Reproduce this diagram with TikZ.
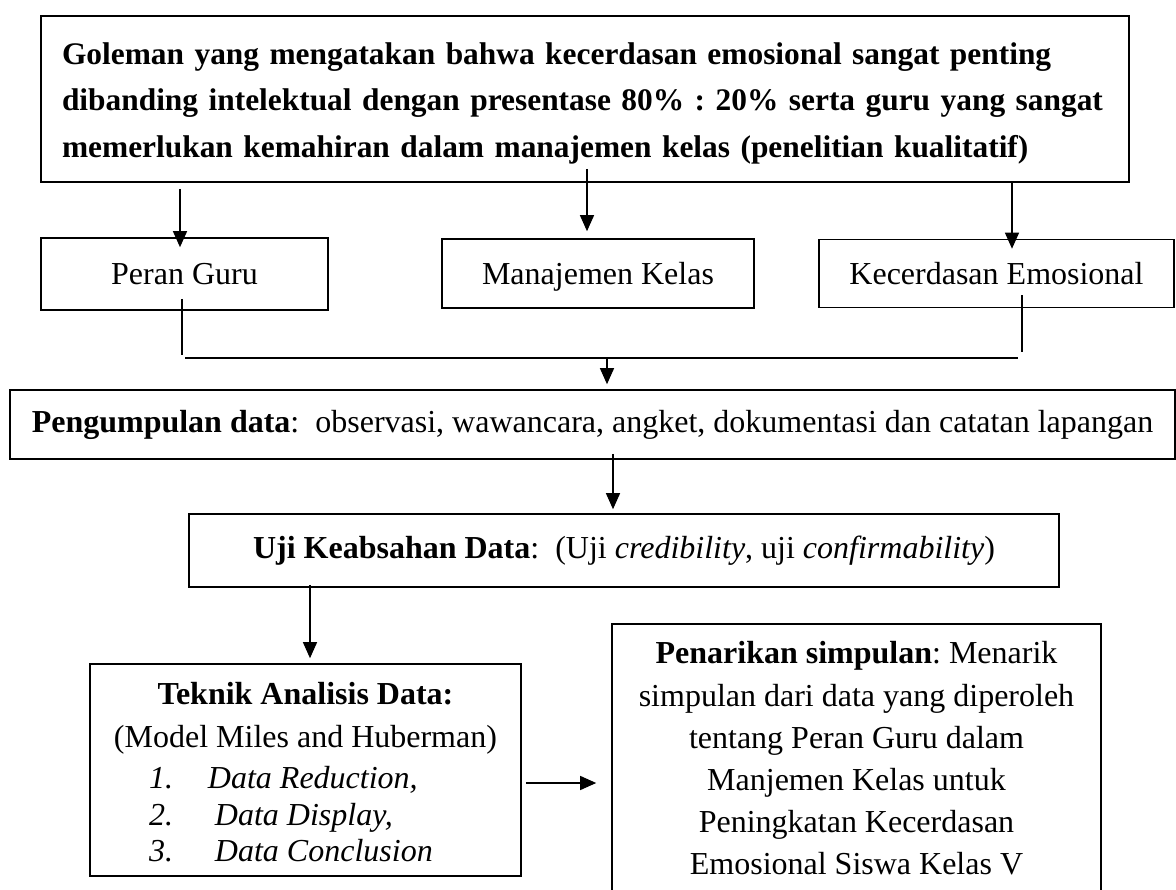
\documentclass[tikz,border=0pt]{standalone}
\usepackage{fontspec}
\setmainfont{Liberation Serif}
\usetikzlibrary{arrows.meta,calc}
\newcommand{\fsz}[2]{\fontsize{#1}{#2}\selectfont\frenchspacing}
\frenchspacing
\begin{document}
\begin{tikzpicture}[x=1pt,y=-1pt,
  box/.style={draw, line width=1.6pt, inner sep=0pt, align=center, font=\fsz{32}{40}},
  small/.style={box, text height=22pt, text depth=0pt},
  conn/.style={line width=1.3pt},
  arr/.style={conn, -{Triangle[width=14pt,length=16pt]}}]
\useasboundingbox (0,0) rectangle (1176,890);
\clip (0,0) rectangle (1176,890);

% top box
\node[box, minimum width=1088pt, minimum height=166pt, text width=1046pt, align=left,
      font=\fsz{31.4}{46.5}\bfseries] (top) at (585,99)
 {\mbox{\rule{0pt}{30pt}Goleman yang mengatakan bahwa kecerdasan emosional sangat penting}\\
  \mbox{dibanding intelektual dengan presentase 80\% : 20\% serta guru yang sangat}\\
  \mbox{memerlukan kemahiran dalam manajemen kelas (penelitian kualitatif)}};

% three boxes
\node[small, minimum width=287pt, minimum height=72pt] (per) at (184.5,274) {Peran Guru};
\node[small, minimum width=312pt, minimum height=69pt] (man) at (598,273.5) {Manajemen Kelas};
\node[small, minimum width=355pt, minimum height=68pt] (kec) at (996.5,273.5) {Kecerdasan Emosional};

% data collection
\node[box, minimum width=1165pt, minimum height=69pt] (pgd) at (592.5,424.5)
 {\textbf{Pengumpulan data}:\ \ observasi, wawancara, angket, dokumentasi dan catatan lapangan};

% validity
\node[box, minimum width=870pt, minimum height=73pt] (uji) at (624,550.5)
 {\textbf{Uji Keabsahan Data}:\ \ (Uji \textit{credibility}, uji \textit{confirmability})};

% analysis
\node[box, minimum width=431pt, minimum height=212pt] (tek) at (305.5,770)
 {\rule{0pt}{27pt}\textbf{Teknik Analisis Data:}\\[3pt]
  (Model Miles and Huberman)\\[1pt]
  \makebox[313pt][l]{\itshape\makebox[59pt][l]{1.}Data Reduction,}\\[-3pt]
  \makebox[313pt][l]{\itshape\makebox[66pt][l]{2.}Data Display,}\\[-4pt]
  \makebox[313pt][l]{\itshape\makebox[66pt][l]{3.}Data Conclusion}};

% conclusion
\node[box, minimum width=489pt, minimum height=269pt, font=\fsz{32}{42.2}] (pen) at (856.5,758.5)
 {\textbf{Penarikan simpulan}: Menarik\\
  simpulan dari data yang diperoleh\\
  tentang Peran Guru dalam\\
  Manjemen Kelas untuk\\
  Peningkatan Kecerdasan\\
  Emosional Siswa Kelas V};

% connectors from top box
\draw[arr] ($(top.south -| per.north)+(-4.5,6)$) -- ($(per.north)+(-4.5,10)$);
\draw[arr] ($(top.south -| man.north)+(-11,-14)$) -- ($(man.north)+(-11,-7)$);
\draw[arr] ($(top.south -| kec.north)+(15.5,0)$) -- ($(kec.north)+(15.5,10)$);

% joining lines
\coordinate (busl) at (185,358);
\coordinate (busr) at (1018,358);
\coordinate (busm) at (607,358);
\draw[conn] ($(per.south)+(-2.5,-12)$) -- ($(per.south)+(-2.5,44)$);
\draw[conn] ($(kec.south)+(25.5,-13)$) -- ($(kec.south)+(25.5,44)$);
\draw[conn] (busl) -- (busr);
\draw[arr] (busm) -- ($(pgd.north)+(14.5,-5)$);

% lower flow
\draw[arr] ($(pgd.south)+(20.5,-6)$) -- ($(uji.north)+(-11,-4)$);
\draw[arr] ($(uji.south -| tek.north)+(4.5,-3)$) -- ($(tek.north)+(4.5,-5)$);
\draw[arr] ($(tek.east)+(4,13)$) -- ($(tek.east -| pen.west)+(-15,13)$);
\end{tikzpicture}
\end{document}
